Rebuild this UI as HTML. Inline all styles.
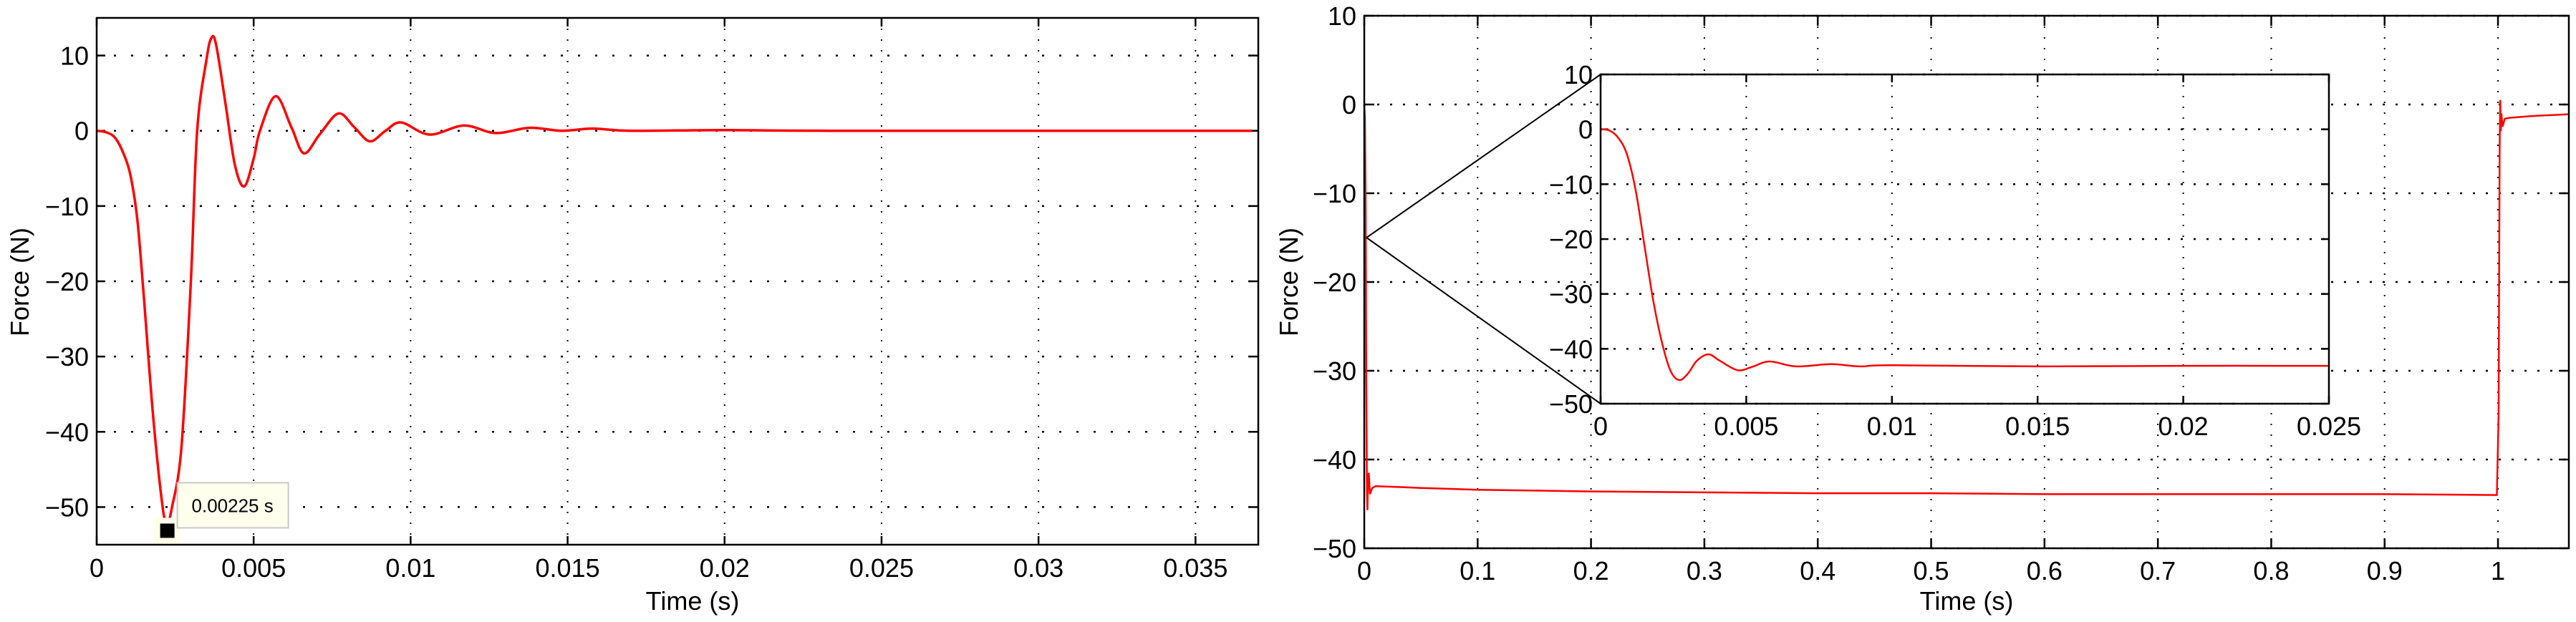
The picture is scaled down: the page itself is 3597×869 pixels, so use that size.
<!DOCTYPE html>
<html><head><meta charset="utf-8"><style>
html,body{margin:0;padding:0;background:#fff;}
svg{display:block;font-family:"Liberation Sans",Arial,sans-serif;}
</style></head><body>
<svg id="chart" width="3597" height="869" xmlns="http://www.w3.org/2000/svg"></svg>
<script>
// ---- Left plot data (impact response) ----
const leftTimes = [0,0.0003,0.0006,0.0009,0.0011,0.0013,0.0015,0.0018,0.0021,0.00225,0.0024,0.0027,0.0030,0.0032,0.0035,0.00365,0.0038,0.0041,0.0044,0.0047,0.0050,0.0052,0.0057,0.0062,0.0066,0.0071,0.0077,0.0082,0.0087,0.0092,0.0097,0.0106,0.0117,0.0127,0.0138,0.0148,0.0158,0.017,0.02,0.0235,0.0368];
const leftForces = [0,-0.2,-1.0,-3.5,-6.4,-12,-22,-38,-50,-52,-50,-42,-20,0,9.5,12.3,11.5,3.7,-4.5,-7.4,-3.7,0,4.6,0.5,-3.0,-0.5,2.3,0.5,-1.4,0,1.1,-0.5,0.7,-0.3,0.4,0,0.3,0,0.1,0,0];
const leftXTicks = [0,0.005,0.01,0.015,0.02,0.025,0.03,0.035];
const leftXTickLabels = ["0","0.005","0.01","0.015","0.02","0.025","0.03","0.035"];
const leftYTicks = [-50,-40,-30,-20,-10,0,10];
const leftYTickLabels = ["\u221250","\u221240","\u221230","\u221220","\u221210","0","10"];
const markerTime = [0.00225];
const markerForce = [-52];
const markerLabel = ["0.00225 s"];
// ---- Inset data (zoom of first 25 ms) ----
const insetTimes = [0,0.0003,0.0006,0.0009,0.0012,0.0015,0.0018,0.0021,0.0024,0.0027,0.0030,0.0033,0.0037,0.0041,0.0047,0.0052,0.0058,0.0067,0.0079,0.0089,0.0100,0.015,0.020,0.025];
const insetForces = [0,-0.2,-1.5,-4.5,-11,-21,-31,-38.7,-44,-45.7,-44.5,-42.2,-41,-42.2,-43.9,-43.3,-42.3,-43.2,-42.8,-43.2,-43.0,-43.2,-43.1,-43.1];
const insetXTicks = [0,0.005,0.01,0.015,0.02,0.025];
const insetXTickLabels = ["0","0.005","0.01","0.015","0.02","0.025"];
const insetYTicks = [-50,-40,-30,-20,-10,0,10];
const insetYTickLabels = ["\u221250","\u221240","\u221230","\u221220","\u221210","0","10"];
// ---- Right plot data (long run) ----
const rightTimes = [0,0.0006,0.0012,0.0018,0.0024,0.0028,0.0033,0.0040,0.0050,0.0070,0.010,0.03,0.05,0.1,0.2,0.3,0.4,0.5,0.6,0.7,0.8,0.9,0.999,1.0005,1.001,1.0015,1.002,1.0025,1.003,1.004,1.006,1.01,1.03,1.0625];
const rightForces = [0,-1.5,-11,-31,-44,-45.7,-42.2,-41.5,-43.9,-43.2,-43.0,-43.1,-43.2,-43.4,-43.6,-43.7,-43.8,-43.8,-43.9,-43.9,-43.9,-43.9,-44.0,-35,-20,-5,0.5,-3,-1,-2.5,-1.6,-1.5,-1.3,-1.1];
const rightXTicks = [0,0.1,0.2,0.3,0.4,0.5,0.6,0.7,0.8,0.9,1];
const rightXTickLabels = ["0","0.1","0.2","0.3","0.4","0.5","0.6","0.7","0.8","0.9","1"];
const rightYTicks = [-50,-40,-30,-20,-10,0,10];
const rightYTickLabels = ["\u221250","\u221240","\u221230","\u221220","\u221210","0","10"];
const zoomAnchor = [0.002,-15];

const NS="http://www.w3.org/2000/svg";
const svg=document.getElementById('chart');
function mk(tag,attrs,parent){const e=document.createElementNS(NS,tag);for(const k in attrs)e.setAttribute(k,attrs[k]);(parent||svg).appendChild(e);return e;}
function scale(d0,d1,r0,r1){return v=>r0+(v-d0)*(r1-r0)/(d1-d0);}
function smoothPath(pts){
  let d="M"+pts[0][0].toFixed(1)+","+pts[0][1].toFixed(1);
  for(let i=0;i<pts.length-1;i++){
    const p0=pts[i-1]||pts[i],p1=pts[i],p2=pts[i+1],p3=pts[i+2]||p2;
    const c1=[p1[0]+(p2[0]-p0[0])/6,p1[1]+(p2[1]-p0[1])/6];
    const c2=[p2[0]-(p3[0]-p1[0])/6,p2[1]-(p3[1]-p1[1])/6];
    d+=" C"+c1[0].toFixed(1)+","+c1[1].toFixed(1)+" "+c2[0].toFixed(1)+","+c2[1].toFixed(1)+" "+p2[0].toFixed(1)+","+p2[1].toFixed(1);
  }
  return d;
}
function axes(g,cfg){
  const {x0,x1,y0,y1,sx,sy,xt,xl,yt,yl,hDash,vDash,tick,xLabelY,fs,name}=cfg;
  const bg=mk('rect',{x:x0,y:y0,width:x1-x0,height:y1-y0,fill:'#fff'},g);
  
  
  yt.forEach((v,i)=>{const y=sy(v);
    const gl=mk('line',{x1:x0,x2:x1,y1:y,y2:y,stroke:'#000','stroke-width':2.5,'stroke-dasharray':hDash},g);
    
    
    mk('line',{x1:x0,x2:x0+tick,y1:y,y2:y,stroke:'#000','stroke-width':2.5},g);
    mk('line',{x1:x1,x2:x1-tick,y1:y,y2:y,stroke:'#000','stroke-width':2.5},g);
    const t=mk('text',{x:x0-11,y:y+13,'text-anchor':'end','font-size':fs},g);t.textContent=yl[i];
    
    
  });
  xt.forEach((v,i)=>{const x=sx(v);
    const gl=mk('line',{x1:x,x2:x,y1:y0,y2:y1,stroke:'#000','stroke-width':2,'stroke-dasharray':vDash},g);
    
    
    mk('line',{x1:x,x2:x,y1:y1,y2:y1-tick,stroke:'#000','stroke-width':2.5},g);
    mk('line',{x1:x,x2:x,y1:y0,y2:y0+tick,stroke:'#000','stroke-width':2.5},g);
    const t=mk('text',{x:x,y:xLabelY,'text-anchor':'middle','font-size':fs},g);t.textContent=xl[i];
    
    
  });
}
function frame(g,x0,x1,y0,y1,name){
  const f=mk('rect',{x:x0,y:y0,width:x1-x0,height:y1-y0,fill:'none',stroke:'#000','stroke-width':2.5},g);
  
  
}

// ===== Left plot =====
const gL=mk('g',{});


const L={x0:135,x1:1757,y0:25,y1:761};
const lsx=scale(0,0.037,L.x0,L.x1), lsy=scale(15,-55,L.y0,L.y1);
axes(gL,{...L,sx:lsx,sy:lsy,xt:leftXTicks,xl:leftXTickLabels,yt:leftYTicks,yl:leftYTickLabels,hDash:'3,21',vDash:'2,13',tick:12,xLabelY:806,fs:36,name:'left'});
const lp=mk('path',{d:smoothPath(leftTimes.map((t,i)=>[lsx(t),lsy(leftForces[i])])),fill:'none',stroke:'#f00','stroke-width':3.5,'stroke-linejoin':'round'},gL);


frame(gL,L.x0,L.x1,L.y0,L.y1,'left');
// data tip
const mx=lsx(markerTime[0]), my=lsy(markerForce[0]);
const mbg=mk('rect',{x:mx-19,y:my-6,width:37,height:36,fill:'#ffffe8'},gL);


const mk1=mk('rect',{x:mx-10,y:my+2,width:20,height:20,fill:'#000'},gL);


const tipBox=mk('rect',{x:mx+14,y:my-55,width:155,height:63,fill:'#ffffee',stroke:'#c8c8c8','stroke-width':2},gL);


const tipText=mk('text',{x:mx+91,y:my-14,'text-anchor':'middle','font-size':26},gL);
tipText.textContent=markerLabel[0];


const lxt=mk('text',{x:967,y:852,'text-anchor':'middle','font-size':36},gL);lxt.textContent='Time (s)';


const lyt=mk('text',{x:0,y:0,'text-anchor':'middle','font-size':36,transform:'translate(40,394) rotate(-90)'},gL);lyt.textContent='Force (N)';



// ===== Right plot =====
const gR=mk('g',{});


const R={x0:1905,x1:3587,y0:22,y1:766};
const rsx=scale(0,1.0625,R.x0,R.x1), rsy=scale(10,-50,R.y0,R.y1);
axes(gR,{...R,sx:rsx,sy:rsy,xt:rightXTicks,xl:rightXTickLabels,yt:rightYTicks,yl:rightYTickLabels,hDash:'3,15',vDash:'2,13',tick:14,xLabelY:810,fs:36,name:'right'});
const rp=mk('path',{d:'M'+rightTimes.map((t,i)=>rsx(t).toFixed(1)+','+rsy(rightForces[i]).toFixed(1)).join(' L'),fill:'none',stroke:'#f00','stroke-width':2.5},gR);


frame(gR,R.x0,R.x1,R.y0,R.y1,'right');
const rxt=mk('text',{x:2746,y:852,'text-anchor':'middle','font-size':36},gR);rxt.textContent='Time (s)';


const ryt=mk('text',{x:0,y:0,'text-anchor':'middle','font-size':36,transform:'translate(1812,394) rotate(-90)'},gR);ryt.textContent='Force (N)';



// ===== Inset =====
const gI=mk('g',{});


const I={x0:2235,x1:3252,y0:104,y1:564};
const ax=rsx(zoomAnchor[0]), ay=rsy(zoomAnchor[1]);
const c1=mk('line',{x1:ax,y1:ay,x2:I.x0,y2:I.y0,stroke:'#000','stroke-width':2},gI);


const c2=mk('line',{x1:ax,y1:ay,x2:I.x0,y2:I.y1,stroke:'#000','stroke-width':2},gI);


const isx=scale(0,0.025,I.x0,I.x1), isy=scale(10,-50,I.y0,I.y1);
axes(gI,{...I,sx:isx,sy:isy,xt:insetXTicks,xl:insetXTickLabels,yt:insetYTicks,yl:insetYTickLabels,hDash:'3,15',vDash:'2,13',tick:11,xLabelY:608,fs:36,name:'inset'});
const ip=mk('path',{d:smoothPath(insetTimes.map((t,i)=>[isx(t),isy(insetForces[i])])),fill:'none',stroke:'#f00','stroke-width':2.5},gI);


frame(gI,I.x0,I.x1,I.y0,I.y1,'inset');
</script>
</body></html>
